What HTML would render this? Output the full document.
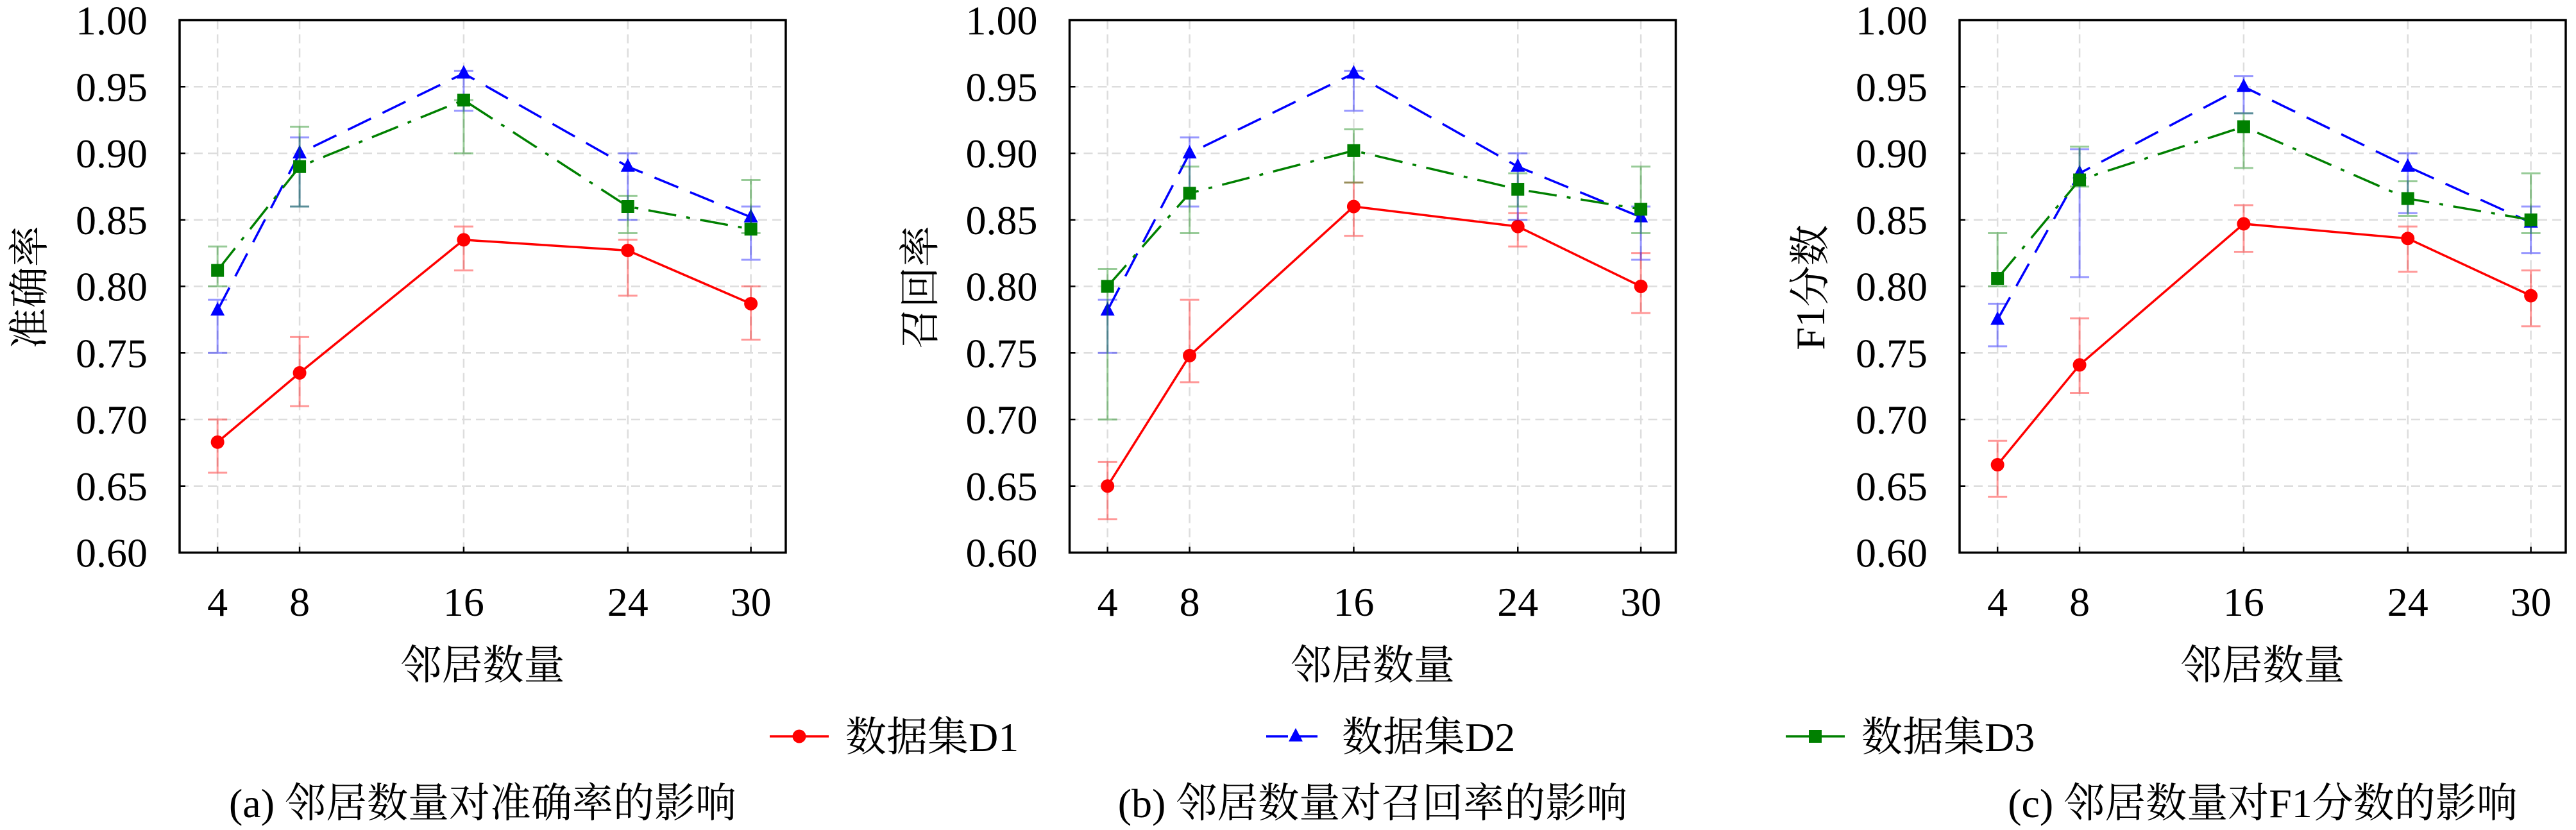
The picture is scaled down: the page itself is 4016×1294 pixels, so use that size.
<!DOCTYPE html>
<html><head><meta charset="utf-8">
<style>
html,body{margin:0;padding:0;background:#fff;}
svg{display:block;}
svg text{font-family:"Liberation Serif","Noto Serif CJK SC","DejaVu Serif",serif;fill:#000;}
</style></head>
<body>
<svg id="chart" width="4016" height="1294" viewBox="0 0 4016 1294" xmlns="http://www.w3.org/2000/svg" font-family="Liberation Serif, Noto Serif CJK SC, DejaVu Serif, serif"></svg>
<script>
const categories = [4, 8, 16, 24, 30];
const yTicks = [0.60, 0.65, 0.70, 0.75, 0.80, 0.85, 0.90, 0.95, 1.00];
const yTickLabels = ["0.60","0.65","0.70","0.75","0.80","0.85","0.90","0.95","1.00"];
const seriesNames = ["数据集D1","数据集D2","数据集D3"];
const panelYLabels = ["准确率","召回率","F1分数"];
const panelCaptions = ["(a) 邻居数量对准确率的影响","(b) 邻居数量对召回率的影响","(c) 邻居数量对F1分数的影响"];

// Panel a: accuracy
const accD1 = [0.683, 0.735, 0.835, 0.827, 0.787];
const accD1Lo = [0.660, 0.710, 0.812, 0.793, 0.760];
const accD1Hi = [0.700, 0.762, 0.845, 0.835, 0.800];
const accD2 = [0.782, 0.900, 0.960, 0.890, 0.852];
const accD2Lo = [0.750, 0.860, 0.932, 0.850, 0.820];
const accD2Hi = [0.790, 0.912, 0.962, 0.900, 0.860];
const accD3 = [0.812, 0.890, 0.940, 0.860, 0.843];
const accD3Lo = [0.800, 0.860, 0.900, 0.840, 0.840];
const accD3Hi = [0.830, 0.920, 0.940, 0.868, 0.880];
// Panel b: recall
const recD1 = [0.650, 0.748, 0.860, 0.845, 0.800];
const recD1Lo = [0.625, 0.728, 0.838, 0.830, 0.780];
const recD1Hi = [0.668, 0.790, 0.878, 0.855, 0.825];
const recD2 = [0.782, 0.900, 0.960, 0.890, 0.852];
const recD2Lo = [0.750, 0.860, 0.932, 0.850, 0.820];
const recD2Hi = [0.790, 0.912, 0.962, 0.900, 0.860];
const recD3 = [0.800, 0.870, 0.902, 0.873, 0.858];
const recD3Lo = [0.700, 0.840, 0.878, 0.860, 0.840];
const recD3Hi = [0.813, 0.890, 0.918, 0.885, 0.890];
// Panel c: F1
const f1D1 = [0.666, 0.741, 0.847, 0.836, 0.793];
const f1D1Lo = [0.642, 0.720, 0.826, 0.811, 0.770];
const f1D1Hi = [0.684, 0.776, 0.861, 0.845, 0.812];
const f1D2 = [0.775, 0.885, 0.950, 0.890, 0.848];
const f1D2Lo = [0.755, 0.807, 0.930, 0.855, 0.825];
const f1D2Hi = [0.787, 0.903, 0.958, 0.900, 0.860];
const f1D3 = [0.806, 0.880, 0.920, 0.866, 0.850];
const f1D3Lo = [0.800, 0.875, 0.889, 0.853, 0.840];
const f1D3Hi = [0.840, 0.905, 0.930, 0.879, 0.885];

const panels = [
  {name:"accuracy", vals:[accD1,accD2,accD3], lo:[accD1Lo,accD2Lo,accD3Lo], hi:[accD1Hi,accD2Hi,accD3Hi]},
  {name:"recall", vals:[recD1,recD2,recD3], lo:[recD1Lo,recD2Lo,recD3Lo], hi:[recD1Hi,recD2Hi,recD3Hi]},
  {name:"f1", vals:[f1D1,f1D2,f1D3], lo:[f1D1Lo,f1D2Lo,f1D3Lo], hi:[f1D1Hi,f1D2Hi,f1D3Hi]}
];
const colors = ["#ff0000","#0000ff","#008000"];
const dashes = [null, "40,20", "44,16,6,16"];
const markers = ["circle","triangle","square"];

const NS = "http://www.w3.org/2000/svg";
const svg = document.getElementById("chart");
function mk(tag, attrs, parent){
  const e = document.createElementNS(NS, tag);
  for (const k in attrs) e.setAttribute(k, attrs[k]);
  if (tag === "text") e.setAttribute("style", "font-family:'Liberation Serif','Noto Serif CJK SC','DejaVu Serif',serif");
  (parent||svg).appendChild(e);
  return e;
}
const panelLefts = [280, 1667.5, 3055];
const W = 945, TOP = 31.5, BOT = 861.5;
const X0 = 2.15, X1 = 31.7, Y0 = 0.60, Y1 = 1.00;

function drawMarker(g, type, x, y, color){
  let m;
  if (type === "circle") m = mk("circle", {cx:x, cy:y, r:10.5, fill:color}, g);
  else if (type === "triangle") m = mk("polygon", {points:`${x},${y-13} ${x-11},${y+8} ${x+11},${y+8}`, fill:color}, g);
  else m = mk("rect", {x:x-10, y:y-10, width:20, height:20, fill:color}, g);
  return m;
}

panels.forEach((p, pi) => {
  const L = panelLefts[pi];
  const xs = v => L + (v - X0) / (X1 - X0) * W;
  const ys = v => BOT - (v - Y0) / (Y1 - Y0) * (BOT - TOP);
  const g = mk("g", {});
  
  
  const grid = mk("g", {stroke:"#dddddd", "stroke-width":2.5, "stroke-dasharray":"14,8"}, g);
  
  
  yTicks.forEach(t => { if (t > Y0 && t < Y1) mk("line", {x1:L, x2:L+W, y1:ys(t), y2:ys(t)}, grid); });
  categories.forEach(c => mk("line", {x1:xs(c), x2:xs(c), y1:TOP, y2:BOT}, grid));
  p.vals.forEach((vals, si) => {
    const sg = mk("g", {}, g);
    
    
    const eg = mk("g", {stroke:colors[si], "stroke-width":3, opacity:0.4}, sg);
    
    
    categories.forEach((c, i) => {
      const x = xs(c), yl = ys(p.lo[si][i]), yh = ys(p.hi[si][i]);
      mk("line", {x1:x, x2:x, y1:yl, y2:yh}, eg);
      mk("line", {x1:x-15, x2:x+15, y1:yl, y2:yl}, eg);
      mk("line", {x1:x-15, x2:x+15, y1:yh, y2:yh}, eg);
    });
    const pts = categories.map((c, i) => xs(c) + "," + ys(vals[i])).join(" ");
    const line = mk("polyline", {points:pts, fill:"none", stroke:colors[si], "stroke-width":3.5}, sg);
    if (dashes[si]) line.setAttribute("stroke-dasharray", dashes[si]);
    
    
    categories.forEach((c, i) => {
      const m = drawMarker(sg, markers[si], xs(c), ys(vals[i]), colors[si]);
      
      
    });
  });
  const fr = mk("rect", {x:L, y:TOP, width:W, height:BOT-TOP, fill:"none", stroke:"#000", "stroke-width":3.5}, g);
  
  
  yTicks.forEach((t, i) => {
    mk("line", {x1:L, x2:L+9, y1:ys(t), y2:ys(t), stroke:"#000", "stroke-width":2.5}, g);
    const tx = mk("text", {x:L-50, y:ys(t)+22, "text-anchor":"end", "font-size":64}, g);
    tx.textContent = yTickLabels[i];
    
    
  });
  categories.forEach(c => {
    mk("line", {x1:xs(c), x2:xs(c), y1:BOT, y2:BOT-9, stroke:"#000", "stroke-width":2.5}, g);
    const tx = mk("text", {x:xs(c), y:960, "text-anchor":"middle", "font-size":64}, g);
    tx.textContent = c;
    
    
  });
  const xl = mk("text", {x:L+W/2, y:1059, "text-anchor":"middle", "font-size":64}, g);
  xl.textContent = "邻居数量";
  
  
  const ylx = pi === 0 ? 46 : L - 233;
  const yl = mk("text", {x:ylx, y:448, "text-anchor":"middle", "font-size":64, transform:`rotate(-90 ${ylx} 448) translate(0 22)`}, g);
  yl.textContent = panelYLabels[pi];
  
  
  const cap = mk("text", {x:L+W/2, y:1274, "text-anchor":"middle", "font-size":64}, g);
  cap.textContent = panelCaptions[pi];
  
  
});

const legX = [1200, 1974, 2784];
const lg = mk("g", {});


seriesNames.forEach((n, i) => {
  const eg = mk("g", {}, lg);
  
  
  const x = legX[i], y = 1148;
  const ln = mk("line", {x1:x, x2:x+92, y1:y, y2:y, stroke:colors[i], "stroke-width":3.5}, eg);
  if (i === 1) ln.setAttribute("stroke-dasharray", "34,12");
  drawMarker(eg, markers[i], x+46, y, colors[i]);
  const t = mk("text", {x:x+118, y:y+23, "font-size":64}, eg);
  t.textContent = n;
});
</script>
</body></html>
